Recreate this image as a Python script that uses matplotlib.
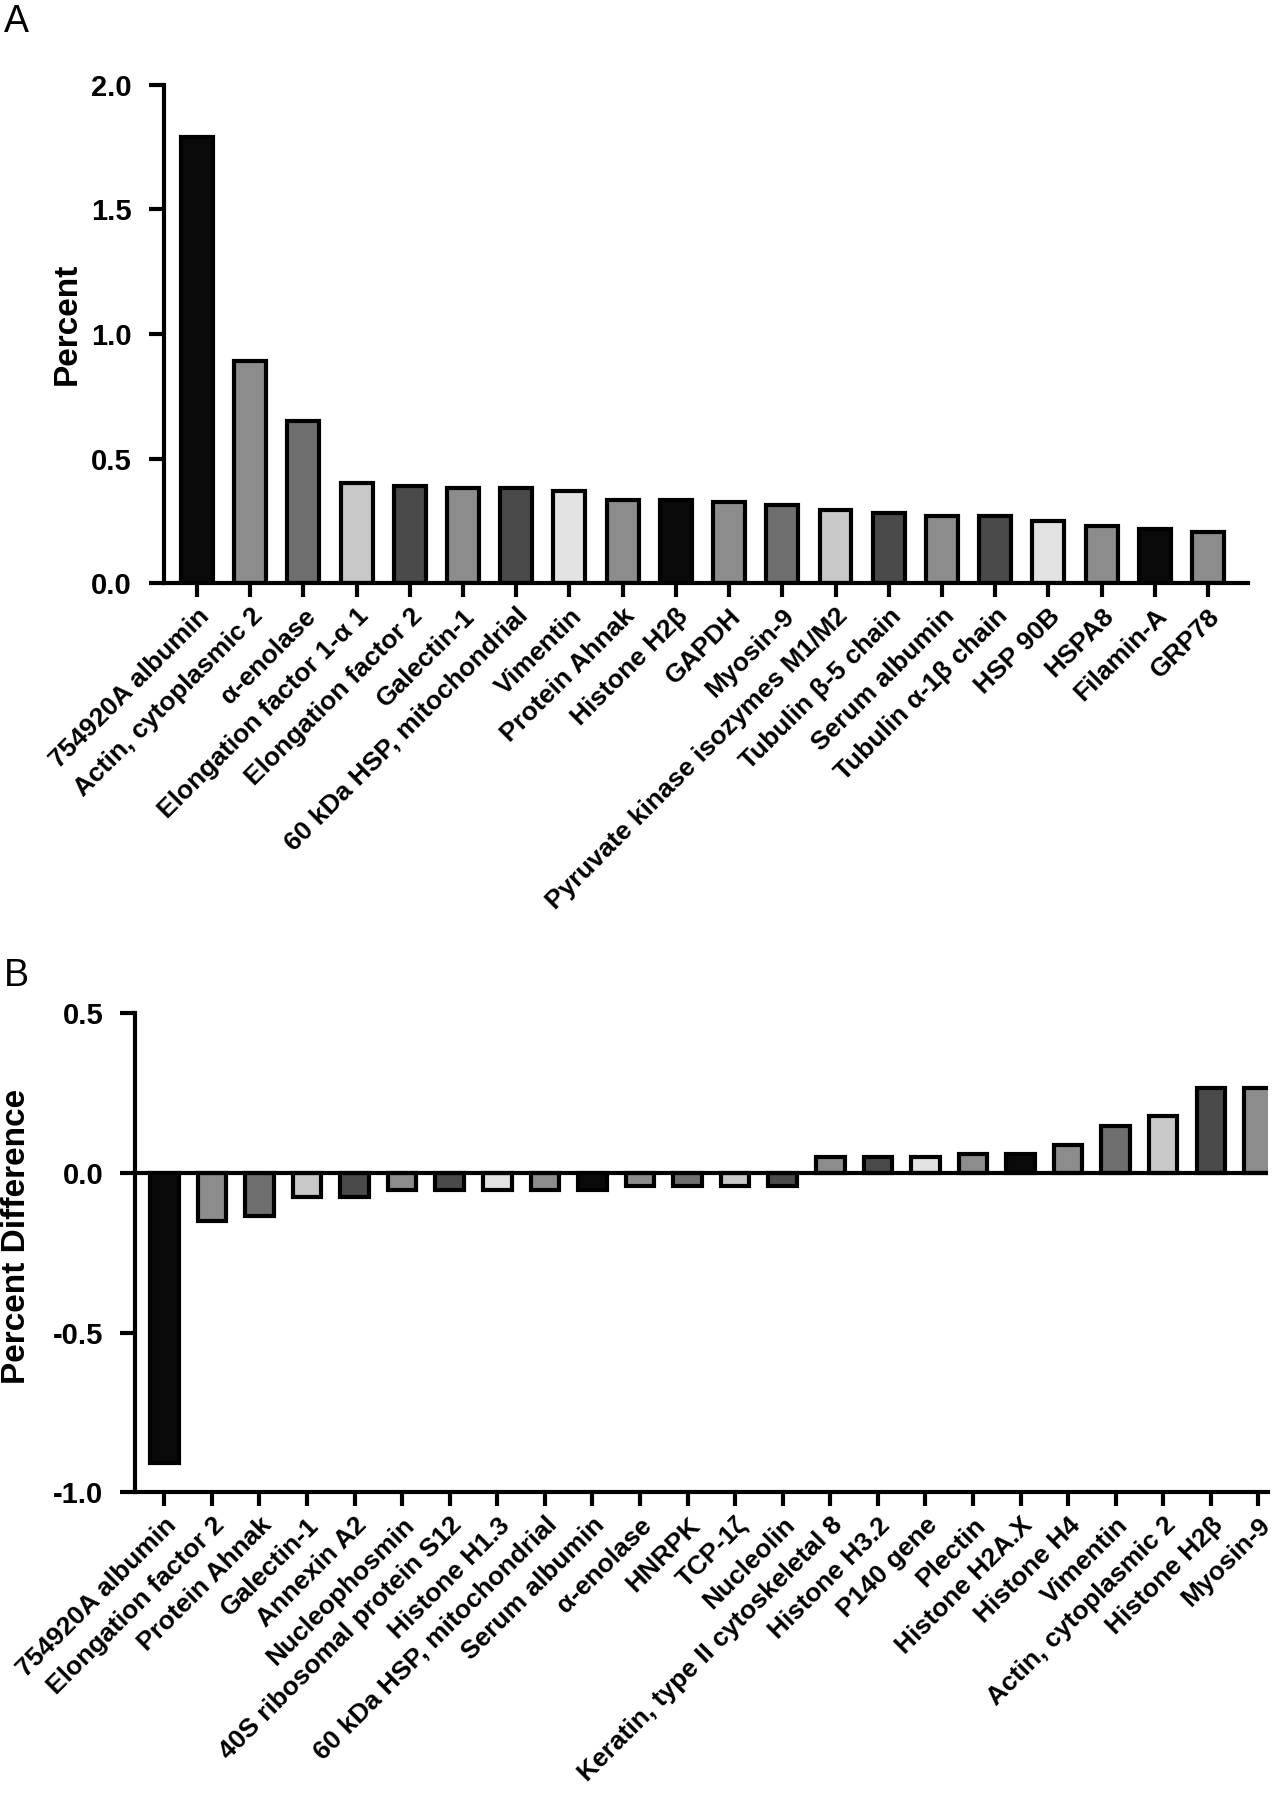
import matplotlib
matplotlib.use("Agg")
import matplotlib.pyplot as plt

plt.rcParams['font.family'] = ['Liberation Sans', 'DejaVu Sans']

# panel A
proteins_a = ["754920A albumin", "Actin, cytoplasmic 2", "α-enolase", "Elongation factor 1-α 1",
              "Elongation factor 2", "Galectin-1", "60 kDa HSP, mitochondrial", "Vimentin",
              "Protein Ahnak", "Histone H2β", "GAPDH", "Myosin-9",
              "Pyruvate kinase isozymes M1/M2", "Tubulin β-5 chain", "Serum albumin",
              "Tubulin α-1β chain", "HSP 90B", "HSPA8", "Filamin-A", "GRP78"]
percent_a = [1.79, 0.89, 0.65, 0.40, 0.39, 0.38, 0.38, 0.37, 0.335, 0.335, 0.325, 0.315,
             0.293, 0.283, 0.271, 0.271, 0.25, 0.228, 0.216, 0.207]

# panel B
proteins_b = ["754920A albumin", "Elongation factor 2", "Protein Ahnak", "Galectin-1",
              "Annexin A2", "Nucleophosmin", "40S ribosomal protein S12", "Histone H1.3",
              "60 kDa HSP, mitochondrial", "Serum albumin", "α-enolase", "HNRPK", "TCP-1ζ",
              "Nucleolin", "Keratin, type II cytoskeletal 8", "Histone H3.2", "P140 gene",
              "Plectin", "Histone H2A.X", "Histone H4", "Vimentin", "Actin, cytoplasmic 2",
              "Histone H2β", "Myosin-9"]
diff_b = [-0.91, -0.15, -0.135, -0.075, -0.075, -0.052, -0.052, -0.052, -0.052, -0.052,
          -0.042, -0.042, -0.042, -0.042, 0.05, 0.05, 0.05, 0.058, 0.058, 0.087, 0.148,
          0.18, 0.265, 0.265]

palette = ['#0a0a0a', '#8c8c8c', '#6e6e6e', '#c8c8c8', '#4a4a4a',
           '#8c8c8c', '#4a4a4a', '#e3e3e3', '#8c8c8c']

LW = 3.0

fig = plt.figure(figsize=(12.76, 18), dpi=100)


def style_axis(ax):
    for s in ['top', 'right']:
        ax.spines[s].set_visible(False)
    for s in ['left', 'bottom']:
        ax.spines[s].set_linewidth(LW)
    ax.tick_params(axis='x', width=LW, length=10, pad=5)
    ax.tick_params(axis='y', width=LW, length=11, pad=12)
    for t in ax.get_yticklabels():
        t.set_fontweight('bold')
        t.set_fontsize(21)
    for t in ax.get_xticklabels():
        t.set_fontweight('bold')
        t.set_fontsize(19)
        t.set_rotation(45)
        t.set_ha('right')
        t.set_rotation_mode('anchor')


# A
ax1 = fig.add_axes([0.1285, 0.676, 0.8495, 0.277])
cols_a = [palette[i % len(palette)] for i in range(len(proteins_a))]
ax1.bar(range(len(proteins_a)), percent_a, width=0.6, color=cols_a,
        edgecolor='black', linewidth=LW)
ax1.set_xlim(-0.62, len(proteins_a) - 0.25)
ax1.set_ylim(0, 2.0)
ax1.set_yticks([0.0, 0.5, 1.0, 1.5, 2.0])
ax1.set_yticklabels(['0.0', '0.5', '1.0', '1.5', '2.0'])
ax1.set_xticks(range(len(proteins_a)))
ax1.set_xticklabels(proteins_a)
ax1.set_ylabel('Percent', fontsize=24, fontweight='bold')
ax1.yaxis.set_label_coords(-0.075, 0.52)
style_axis(ax1)

# B
ax2 = fig.add_axes([0.106, 0.171, 0.888, 0.266])
cols_b = [palette[i % len(palette)] for i in range(len(proteins_b))]
ax2.bar(range(len(proteins_b)), diff_b, width=0.6, color=cols_b,
        edgecolor='black', linewidth=LW)
ax2.axhline(0, color='black', linewidth=LW, zorder=3)
ax2.set_xlim(-0.61, len(proteins_b) - 0.79)
ax2.set_ylim(-1.0, 0.5)
ax2.set_yticks([-1.0, -0.5, 0.0, 0.5])
ax2.set_yticklabels(['-1.0', '-0.5', '0.0', '0.5'])
ax2.set_xticks(range(len(proteins_b)))
ax2.set_xticklabels(proteins_b)
ax2.set_ylabel('Percent Difference', fontsize=24, fontweight='bold')
ax2.yaxis.set_label_coords(-0.091, 0.534)
style_axis(ax2)

fig.text(0.003, 0.998, 'A', fontsize=27, va='top', ha='left')
fig.text(0.003, 0.468, 'B', fontsize=27, va='top', ha='left')

fig.savefig('out.png', dpi=100)
